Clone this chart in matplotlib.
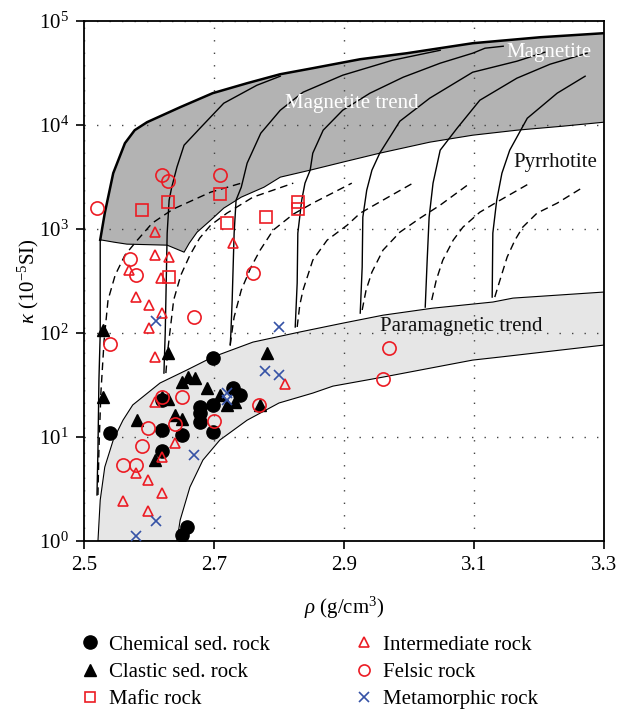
import numpy as np
import matplotlib
matplotlib.use("Agg")
import matplotlib.pyplot as plt
from matplotlib.lines import Line2D
from matplotlib.ticker import NullLocator, FixedLocator

plt.rcParams['font.family'] = ['Liberation Serif', 'DejaVu Serif']
plt.rcParams['mathtext.fontset'] = 'custom'
plt.rcParams['mathtext.rm'] = 'Liberation Serif'
plt.rcParams['mathtext.it'] = 'Liberation Serif:italic'
plt.rcParams['mathtext.bf'] = 'Liberation Serif:bold'

RED = '#ec1c24'
BLUE = '#3552a6'

# ---------------- model regions ----------------
# Magnetite trend band (upper / lower boundary)
mag_up_rho = [2.525, 2.532, 2.545, 2.563, 2.578, 2.597, 2.648, 2.698, 2.751, 2.802, 2.852, 2.925, 2.997, 3.098, 3.202, 3.30]
mag_up_k = [785, 1416, 3428, 6653, 8873, 10590, 14760, 20130, 25100, 30630, 34990, 42670, 48750, 60800, 69400, 75900]
mag_lo_rho = [2.525, 2.546, 2.566, 2.628, 2.654, 2.662, 2.674, 2.695, 2.715, 2.742, 2.777, 2.802, 2.848, 2.898, 2.955, 3.032, 3.098, 3.166, 3.237, 3.30]
mag_lo_k = [785, 745, 713, 697, 597, 729, 929, 1213, 1581, 2017, 2515, 3139, 3664, 4374, 5336, 6808, 7943, 8873, 9700, 10590]

# Paramagnetic trend band
par_up_rho = [2.5215, 2.525, 2.532, 2.545, 2.560, 2.575, 2.617, 2.658, 2.698, 2.760, 2.832, 2.898, 2.96, 3.037, 3.129, 3.16, 3.30]
par_up_k = [1.0, 2.48, 5.14, 9.34, 14.5, 20.3, 33.0, 43.9, 58.6, 81.6, 102, 124, 148, 173, 198, 216, 247]
par_lo_rho = [2.643, 2.648, 2.663, 2.683, 2.709, 2.751, 2.80, 2.852, 2.883, 2.96, 3.098, 3.14, 3.30]
par_lo_k = [1.0, 1.59, 3.30, 6.0, 9.34, 14.5, 21.2, 26.4, 30.8, 37.6, 54.8, 58.6, 76.4]

# Magnetite mixing curves (solid)
s1_rho = [2.52, 2.5215, 2.523, 2.525, 2.525, 2.525]
s1_k = [2.77, 7.48, 35.2, 99.5, 258, 785]
s2_rho = [2.623, 2.625, 2.626, 2.628, 2.631, 2.635, 2.643, 2.654, 2.68, 2.715, 2.766, 2.802]
s2_k = [41.1, 99.5, 207, 910, 1888, 2515, 3917, 6368, 9484, 16110, 23990, 29300]
s3_rho = [2.725, 2.726, 2.728, 2.731, 2.734, 2.742, 2.751, 2.772, 2.802, 2.837, 2.898, 2.975, 3.048]
s3_k = [76.4, 99.5, 207, 910, 1888, 2515, 4276, 8300, 13800, 20560, 29950, 41780, 52000]
s4_rho = [2.825, 2.828, 2.829, 2.835, 2.84, 2.848, 2.852, 2.868, 2.898, 2.94, 2.991, 3.048, 3.098, 3.117, 3.145]
s4_k = [114, 301, 910, 1888, 2748, 3664, 5336, 8873, 13800, 20130, 28640, 39080, 48750, 54450, 56890]
s5_rho = [2.925, 2.928, 2.929, 2.935, 2.943, 2.955, 2.986, 3.032, 3.098, 3.166, 3.209]
s5_k = [155, 429, 1295, 2353, 3664, 5336, 10830, 18030, 32000, 40830, 49800]
s6_rho = [3.025, 3.028, 3.031, 3.037, 3.048, 3.074, 3.109, 3.166, 3.217, 3.274]
s6_k = [177, 500, 1295, 2748, 5702, 9268, 17220, 28050, 38200, 48750]
s7_rho = [3.128, 3.129, 3.135, 3.143, 3.155, 3.182, 3.228, 3.271]
s7_k = [221, 910, 1888, 3428, 5702, 11560, 20130, 29300]

# Pyrrhotite mixing curves (dashed)
d1_rho = [2.5215, 2.523, 2.526, 2.531, 2.537, 2.548, 2.563, 2.582, 2.605, 2.637, 2.695, 2.742]
d1_k = [2.77, 7.48, 26.4, 85.3, 207, 359, 559, 778, 1135, 1546, 2253, 2748]
d2_rho = [2.626, 2.629, 2.632, 2.638, 2.649, 2.663, 2.678, 2.695, 2.72, 2.76, 2.822]
d2_k = [41.1, 68.4, 99.5, 207, 359, 559, 814, 1086, 1416, 2017, 2748]
d3_rho = [2.725, 2.728, 2.731, 2.742, 2.757, 2.771, 2.791, 2.822, 2.852, 2.912]
d3_k = [76.4, 106, 142, 258, 429, 624, 971, 1384, 1766, 2748]
d4_rho = [2.828, 2.832, 2.837, 2.852, 2.874, 2.905, 2.925, 2.96, 3.006]
d4_k = [114, 185, 258, 500, 778, 1086, 1416, 1888, 2748]
d5_rho = [2.928, 2.934, 2.943, 2.96, 2.986, 3.017, 3.048, 3.094]
d5_k = [166, 258, 384, 624, 929, 1267, 1690, 2748]
d6_rho = [3.035, 3.042, 3.052, 3.068, 3.083, 3.109, 3.135, 3.186]
d6_k = [207, 322, 500, 778, 1038, 1445, 1805, 2748]
d7_rho = [3.132, 3.14, 3.151, 3.163, 3.175, 3.197, 3.228, 3.268]
d7_k = [221, 322, 535, 778, 1038, 1416, 1766, 2515]

# ---------------- samples ----------------
chem_rho = [2.698, 2.540, 2.620, 2.651, 2.620, 2.678, 2.678, 2.678, 2.698, 2.698, 2.729, 2.740, 2.620, 2.651, 2.658]
chem_k = [57, 10.9, 11.6, 10.4, 7.3, 19.4, 17.0, 13.9, 20.2, 11.1, 29.5, 25.2, 22.6, 1.14, 1.36]
clas_rho = [2.529, 2.529, 2.629, 2.651, 2.66, 2.671, 2.689, 2.709, 2.62, 2.629, 2.582, 2.64, 2.651, 2.609, 2.72, 2.732, 2.782, 2.771]
clas_k = [106, 24.2, 64, 33.7, 37.6, 36.8, 29.5, 25.2, 24.2, 23.1, 14.5, 16.2, 14.9, 6.0, 20.2, 21.6, 64, 20.2]
mafic_rho = [2.589, 2.629, 2.709, 2.72, 2.78, 2.829, 2.829, 2.631]
mafic_k = [1510, 1800, 2150, 1135, 1295, 1800, 1550, 344]
inter_rho = [2.609, 2.609, 2.631, 2.618, 2.569, 2.58, 2.60, 2.62, 2.60, 2.609, 2.609, 2.729, 2.809, 2.64, 2.62, 2.58, 2.598, 2.62, 2.56, 2.598]
inter_k = [930, 558, 535, 336, 401, 221, 185, 155, 111, 58.6, 21.6, 729, 32.2, 8.7, 6.4, 4.5, 3.9, 2.9, 2.4, 1.94]
fels_rho = [2.62, 2.629, 2.709, 2.52, 2.571, 2.58, 2.669, 2.76, 2.54, 2.62, 2.651, 2.70, 2.598, 2.64, 2.589, 2.56, 2.58, 2.769, 2.969, 2.96]
fels_k = [3280, 2870, 3280, 1580, 512, 359, 142, 375, 78, 24.2, 24.2, 14.2, 12.2, 13.3, 8.2, 5.4, 5.4, 20.2, 71.5, 36]
meta_rho = [2.611, 2.80, 2.778, 2.80, 2.72, 2.72, 2.669, 2.611, 2.58]
meta_k = [130, 114, 43, 39, 26.4, 22.6, 6.7, 1.56, 1.12]

legend_labels = ['Chemical sed. rock', 'Clastic sed. rock', 'Mafic rock',
                 'Intermediate rock', 'Felsic rock', 'Metamorphic rock']

# ---------------- figure ----------------
fig = plt.figure(figsize=(6.17, 7.10), dpi=100)
ax = fig.add_axes([0.1361, 0.238, 0.8428, 0.7328])
ax.set_yscale('log')
ax.set_xlim(2.5, 3.3)
ax.set_ylim(1, 1e5)

# bands
ax.fill(list(mag_up_rho) + list(mag_lo_rho[::-1]), list(mag_up_k) + list(mag_lo_k[::-1]),
        color='#b3b3b3', ec='none', zorder=1)
ax.plot(mag_up_rho, mag_up_k, color='black', lw=1.8, zorder=2)
ax.plot(mag_lo_rho, mag_lo_k, color='black', lw=0.8, zorder=2)

ax.fill(list(par_up_rho) + list(par_lo_rho[::-1]), list(par_up_k) + list(par_lo_k[::-1]),
        color='#e6e6e6', ec='black', lw=0.8, zorder=1)

for r, k in [(s1_rho, s1_k), (s2_rho, s2_k), (s3_rho, s3_k), (s4_rho, s4_k),
             (s5_rho, s5_k), (s6_rho, s6_k), (s7_rho, s7_k)]:
    ax.plot(r, k, color='black', lw=1.0, zorder=2)
for r, k in [(d1_rho, d1_k), (d2_rho, d2_k), (d3_rho, d3_k), (d4_rho, d4_k),
             (d5_rho, d5_k), (d6_rho, d6_k), (d7_rho, d7_k)]:
    ax.plot(r, k, color='black', lw=1.0, ls=(0, (5.5, 3.5)), zorder=2)

# grid
ax.set_axisbelow('line')
ax.grid(True, which='major', ls=(0, (1, 8)), color='#444444', lw=1.0)
ax.yaxis.set_minor_locator(NullLocator())
ax.xaxis.set_major_locator(FixedLocator([2.5, 2.7, 2.9, 3.1, 3.3]))
ax.set_xticklabels(['2.5', '2.7', '2.9', '3.1', '3.3'])

# samples
ax.plot(chem_rho, chem_k, 'o', color='black', ms=9.5, ls='none', zorder=4)
ax.plot(clas_rho, clas_k, '^', color='black', ms=8.5, ls='none', zorder=4)
ax.plot(mafic_rho, mafic_k, 's', mfc='none', mec=RED, mew=1.2, ms=8.5, ls='none', zorder=4)
ax.plot(inter_rho, inter_k, '^', mfc='none', mec=RED, mew=1.2, ms=7.5, ls='none', zorder=4)
ax.plot(fels_rho, fels_k, 'o', mfc='none', mec=RED, mew=1.2, ms=9.5, ls='none', zorder=4)
ax.plot(meta_rho, meta_k, 'x', color=BLUE, mew=1.2, ms=7.5, ls='none', zorder=4)

# text labels
ax.text(3.215, 50000, 'Magnetite', color='white', fontsize=15, ha='center', va='center', zorder=5)
ax.text(2.912, 16000, 'Magnetite trend', color='white', fontsize=15, ha='center', va='center', zorder=5)
ax.text(3.225, 4300, 'Pyrrhotite', color='#111111', fontsize=15, ha='center', va='center', zorder=5)
ax.text(3.08, 115, 'Paramagnetic trend', color='#111111', fontsize=15, ha='center', va='center', zorder=5)

# axes styling
for s in ax.spines.values():
    s.set_linewidth(1.3)
ax.tick_params(axis='both', which='major', direction='out', length=6, width=1.2,
               labelsize=15, pad=5)
ax.set_xlabel(r'$\rho$ (g/cm$^3$)', fontsize=15, labelpad=14)
ax.set_ylabel(r'$\kappa$ (10$^{-5}$SI)', fontsize=15)
ax.yaxis.set_label_coords(-0.082, 0.5)

# legend
h = [Line2D([], [], marker='o', color='black', ls='none', ms=9.5),
     Line2D([], [], marker='^', color='black', ls='none', ms=8.5),
     Line2D([], [], marker='s', mfc='none', mec=RED, mew=1.2, ls='none', ms=7.5),
     Line2D([], [], marker='^', mfc='none', mec=RED, mew=1.2, ls='none', ms=6.5),
     Line2D([], [], marker='o', mfc='none', mec=RED, mew=1.2, ls='none', ms=8),
     Line2D([], [], marker='x', color=BLUE, mew=1.2, ls='none', ms=7.5)]
common = dict(loc='upper left', frameon=False, fontsize=15, handlelength=1.0,
              handletextpad=0.4, labelspacing=0.36, borderaxespad=0, borderpad=0)
fig.legend(h[:3], legend_labels[:3], bbox_to_anchor=(0.129, 0.1054), **common)
fig.legend(h[3:], legend_labels[3:], bbox_to_anchor=(0.573, 0.1054), **common)

fig.savefig('out.png', dpi=100, facecolor='white')
